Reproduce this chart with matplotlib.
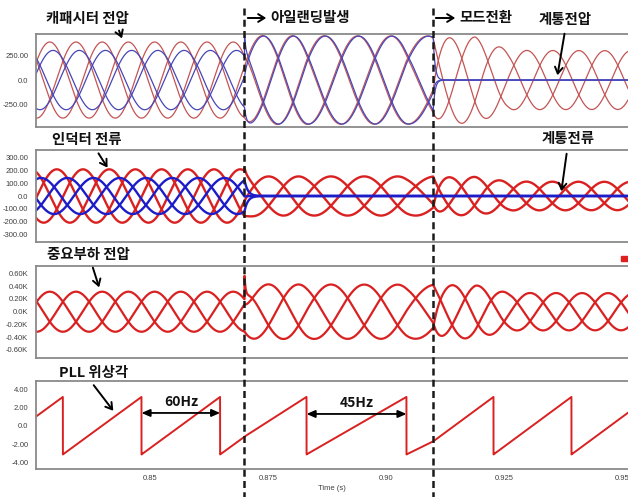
import numpy as np
import matplotlib
matplotlib.use("Agg")
import matplotlib.pyplot as plt
from matplotlib.lines import Line2D
from matplotlib.patches import Rectangle, FancyArrowPatch
from matplotlib.transforms import blended_transform_factory

KR = ["Noto Sans CJK KR", "DejaVu Sans"]
NUM = ["Liberation Sans", "DejaVu Sans"]

W, H = 628, 497

# ---- time base and events -------------------------------------------------
t_start, t_end = 0.8258, 0.9513
event_times = [0.87, 0.91]          # islanding, operating-mode change
t = np.linspace(t_start, t_end, 9000)

# ---- PLL: frequency per interval and first wrap time ------------------------
pll_edges = [t_start, 0.87, 0.8831, 0.9043, 0.91, t_end]
pll_freq = [60.0, 52.5, 47.2, 40.0, 60.5]
pll_first_reset = 0.8315

# ---- amplitude envelopes (knot times shared by all signals) ----------------
env_t = [0.80, 0.87, 0.870001, 0.91, 0.910001, 0.919, 0.926, 0.97]
cap_red_amp = [385, 385, 450, 445, 445, 435, 300, 295]
cap_blue_amp = [300, 300, 445, 445, 0, 0, 0, 0]
inv_red_amp = [207, 207, 152, 152, 152, 148, 112, 108]
inv_blue_amp = [140, 140, 0, 0, 0, 0, 0, 0]
load_amp = [315, 315, 430, 425, 425, 418, 295, 290]

# ---- phase-a angle offsets vs. PLL angle, per interval (deg) ---------------
cap_red_ph = [0, 4, -26]
cap_blue_ph = [15, 8, 0]
inv_red_ph = [32, 28, -28]
inv_blue_ph = [-40, 0, 0]
load_ph = [0, 28, -11]

# ---- switching surge at islanding, per phase ------------------------------
cap_red_spike = [0, 0, 0]
cap_blue_spike = [0, 0, 230]
inv_red_spike = [0, 0, 25]
inv_blue_spike = [0, 0, 0]
load_spike = [0, 0, 380]

# ---- PLL angle -------------------------------------------------------------
theta0 = np.pi - 2 * np.pi * pll_freq[0] * (pll_first_reset - t_start)
theta_edges = [theta0]
for i, f in enumerate(pll_freq):
    theta_edges.append(theta_edges[-1] + 2 * np.pi * f * (pll_edges[i + 1] - pll_edges[i]))
theta = np.interp(t, pll_edges, theta_edges)
pll = np.mod(theta + np.pi, 2 * np.pi) - np.pi


def phase_wave(amp, ph_deg, spike, k, tau):
    A = np.interp(t, env_t, amp)
    seg = np.searchsorted(event_times, t, side="right")
    phi = np.deg2rad(np.asarray(ph_deg, dtype=float))[seg]
    y = A * np.cos(theta - phi - 2 * np.pi * k / 3)
    for tb in event_times:
        idx = np.searchsorted(t, tb)
        jump = y[idx - 1] - y[idx]
        m = t >= tb
        y[m] += jump * np.exp(-(t[m] - tb) / tau)
    m = t >= event_times[0]
    y[m] += spike[k] * np.exp(-(t[m] - event_times[0]) / 0.00025)
    return y


fig = plt.figure(figsize=(W / 100, H / 100), dpi=100)


def box(top, bottom):
    return [36 / W, 1 - bottom / H, 1 - 36 / W, (bottom - top) / H]


axes = [fig.add_axes(box(34, 127)), fig.add_axes(box(150, 242)),
        fig.add_axes(box(266, 358)), fig.add_axes(box(381, 469))]

RED1, BLUE1 = "#c45454", "#4646b8"
RED, BLUE = "#d92121", "#1c1cc8"

ax1, ax2, ax3, ax4 = axes
for k in range(3):
    ax1.plot(t, phase_wave(cap_red_amp, cap_red_ph, cap_red_spike, k, 0.0012), color=RED1, lw=0.9)
for k in range(3):
    ax1.plot(t, phase_wave(cap_blue_amp, cap_blue_ph, cap_blue_spike, k, 0.0004), color=BLUE1, lw=0.9)
for k in range(3):
    ax2.plot(t, phase_wave(inv_red_amp, inv_red_ph, inv_red_spike, k, 0.0010), color=RED, lw=1.7)
for k in range(3):
    ax2.plot(t, phase_wave(inv_blue_amp, inv_blue_ph, inv_blue_spike, k, 0.0007), color=BLUE, lw=1.7)
for k in range(3):
    ax3.plot(t, phase_wave(load_amp, load_ph, load_spike, k, 0.0010), color=RED, lw=1.6)
ax4.plot(t, pll, color=RED, lw=1.4)

ylims = [(-475, 466), (-357, 357), (-728, 719), (-4.73, 4.88)]
yticks = [[250, 0, -250],
          [300, 200, 100, 0, -100, -200, -300],
          [600, 400, 200, 0, -200, -400, -600],
          [4, 2, 0, -2, -4]]
ylabels = [["250.00", "0.0", "-250.00"],
           ["300.00", "200.00", "100.00", "0.0", "-100.00", "-200.00", "-300.00"],
           ["0.60K", "0.40K", "0.20K", "0.0K", "-0.20K", "-0.40K", "-0.60K"],
           ["4.00", "2.00", "0.0", "-2.00", "-4.00"]]
xticks = [0.85, 0.875, 0.90, 0.925, 0.95]
xlabels = ["0.85", "0.875", "0.90", "0.925", "0.95"]

for ax, yl, yt, ytl in zip(axes, ylims, yticks, ylabels):
    ax.set_xlim(t_start, t_end)
    ax.set_ylim(*yl)
    ax.set_yticks(yt)
    ax.set_yticklabels(ytl, fontfamily=NUM, fontsize=5.5, color="#404040")
    ax.tick_params(axis="both", length=0, pad=5.5)
    for s in ("left", "top", "bottom"):
        ax.spines[s].set_color("#8a8a8a")
        ax.spines[s].set_linewidth(1.3)
    ax.spines["right"].set_visible(False)
    ax.set_xticks(xticks)
    if ax is ax4:
        ax.set_xticklabels(xlabels, fontfamily=NUM, fontsize=5.5, color="#404040")
        ax.tick_params(axis="x", pad=4)
    else:
        ax.set_xticklabels([])

fig.text(332 / W, 1 - 488 / H, "Time (s)", ha="center", va="center",
         fontfamily=NUM, fontsize=5.5, color="#404040")

# event markers spanning all panels
tr = blended_transform_factory(ax4.transData, fig.transFigure)
for tb in event_times:
    fig.add_artist(Line2D([tb, tb], [1 - 8 / H, 0], transform=tr, color="#1a1a1a",
                          lw=1.8, linestyle=(0, (2.8, 1.7)), zorder=10))


def P(x, y):
    return (x / W, 1 - y / H)


def label(x, y, s, size=10.4):
    fig.text(*P(x, y), s, ha="left", va="center", fontfamily=KR,
             fontsize=size, fontweight="bold", color="#111111")


def arrow(x0, y0, x1, y1):
    fig.add_artist(FancyArrowPatch(
        P(x0, y0), P(x1, y1), transform=fig.transFigure,
        arrowstyle="->,head_length=4.5,head_width=2.8",
        color="black", lw=1.4, mutation_scale=1, zorder=12))


label(46, 19, "캐패시터 전압")
arrow(118, 28, 123, 41)
arrow(245, 18, 269, 18)
label(270, 18, "아일랜딩발생")
arrow(433, 18, 458, 18)
label(459, 18, "모드전환")
label(539, 20, "계통전압")
arrow(565, 31, 557, 78)
label(52, 140, "인덕터 전류")
arrow(97, 151, 109, 170)
label(542, 139, "계통전류")
arrow(567, 151, 561, 194)
label(47, 255, "중요부하 전압")
arrow(92, 265, 100, 290)
label(59, 373, "PLL 위상각")
arrow(92, 383, 115, 413)

# period markers between PLL wrap instants
wraps = t[1:][np.diff(pll) < -np.pi]
for (a, b), yv, txt in [((wraps[1], wraps[2]), 1.39, "60Hz"), ((wraps[3], wraps[4]), 1.28, "45Hz")]:
    ax4.annotate("", xy=(b, yv), xytext=(a, yv),
                 arrowprops=dict(arrowstyle="<|-|>,head_length=0.5,head_width=0.22",
                                 color="black", lw=1.3, shrinkA=0, shrinkB=0))
    ax4.text((a + b) / 2, yv + 1.25, txt, ha="center", va="center",
             fontfamily=KR, fontsize=10, fontweight="bold", color="#111111")

fig.add_artist(Rectangle((621 / W, 1 - 261 / H), 7 / W, 5 / H,
                         transform=fig.transFigure, color="#e02020"))

fig.savefig("out.png", dpi=100)
